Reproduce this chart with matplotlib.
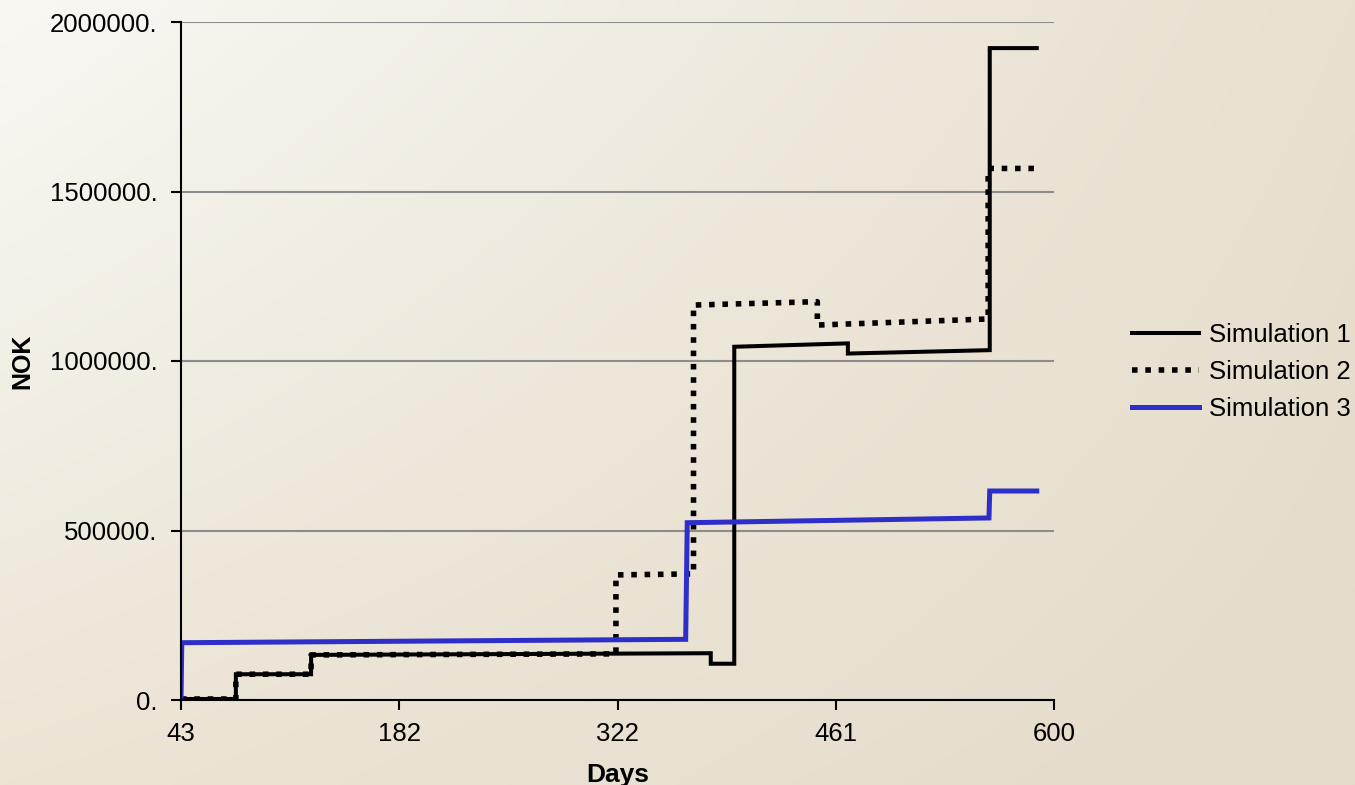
import numpy as np
import matplotlib.pyplot as plt
from matplotlib.ticker import FixedLocator, FuncFormatter

plt.rcParams['font.family'] = ['Liberation Sans', 'DejaVu Sans']

# Simulation 1 (solid black)
days_sim1 = [43, 78, 78, 126, 126, 381, 381, 396, 396, 468.5, 468.5, 559, 559, 589]
nok_sim1 = [3000, 3000, 76000, 76000, 133000, 138000, 107000, 107000,
            1042000, 1052000, 1022000, 1032000, 1923000, 1923000]

# Simulation 2 (dotted black)
days_sim2 = [43, 78, 78, 126, 126, 320.5, 320.5, 370, 370, 449, 449, 558, 558, 588]
nok_sim2 = [3000, 3000, 76000, 76000, 133000, 136000, 369000, 372000,
            1165000, 1175000, 1106000, 1124000, 1568000, 1568000]

# Simulation 3 (blue)
days_sim3 = [43, 43.5, 365, 366, 558.5, 559, 589]
nok_sim3 = [0, 169000, 179000, 523000, 537000, 616500, 616500]

x_ticks = [43, 182.25, 321.5, 460.75, 600]
x_tick_labels = ['43', '182', '322', '461', '600']
y_ticks = [0, 500000, 1000000, 1500000, 2000000]

fig = plt.figure(figsize=(13.55, 7.85), dpi=100)

# beige gradient background
bg = fig.add_axes([0, 0, 1, 1], zorder=-10)
tl = np.array([249, 248, 243]) / 255.
tr = np.array([232, 224, 208]) / 255.
bl = np.array([236, 229, 214]) / 255.
br = np.array([228, 219, 202]) / 255.
u = np.linspace(0, 1, 200)[None, :, None]
v = np.linspace(0, 1, 120)[:, None, None]
img = (1 - u) * (1 - v) * tl + u * (1 - v) * tr + (1 - u) * v * bl + u * v * br
bg.imshow(img, aspect='auto', interpolation='bilinear', extent=[0, 1, 0, 1])
bg.axis('off')

ax = fig.add_axes([181 / 1355, 1 - 700 / 785, (1054 - 181) / 1355, (700 - 22) / 785])
ax.set_facecolor('none')

ax.plot(days_sim1, nok_sim1, color='black', lw=2.9, label='Simulation 1',
        solid_joinstyle='miter', zorder=3)
ax.plot(days_sim2, nok_sim2, color='black', lw=4.0, dashes=(1.0, 1.4),
        dash_capstyle='butt', label='Simulation 2', zorder=3)
ax.plot(days_sim3, nok_sim3, color='#2e2ec8', lw=3.6, label='Simulation 3',
        solid_joinstyle='miter', zorder=3)

ax.set_xlim(43, 600)
ax.set_ylim(0, 2000000)
ax.xaxis.set_major_locator(FixedLocator(x_ticks))
ax.set_xticklabels(x_tick_labels)
ax.yaxis.set_major_locator(FixedLocator(y_ticks))
ax.yaxis.set_major_formatter(FuncFormatter(lambda v, p: '%d.' % v))

ax.grid(True, axis='y', color='#8c8c8c', lw=1.5)
ax.set_axisbelow(True)
for s in ['top', 'right']:
    ax.spines[s].set_visible(False)
for s in ['left', 'bottom']:
    ax.spines[s].set_linewidth(1.5)
    ax.spines[s].set_zorder(4)
ax.tick_params(axis='both', direction='out', length=7, width=1.5,
               labelsize=18.5, colors='black')
ax.tick_params(axis='x', pad=9)
ax.tick_params(axis='y', pad=10)

ax.set_xlabel('Days', fontsize=19, fontweight='bold', labelpad=12)
ax.set_ylabel('NOK', fontsize=18, fontweight='bold', labelpad=11)

ax.legend(loc='center left', bbox_to_anchor=(1132 / 1355, 1 - 372 / 785),
          bbox_transform=fig.transFigure, frameon=False, fontsize=18.5,
          handlelength=2.6, handletextpad=0.4, labelspacing=0.5,
          borderpad=0, borderaxespad=0)

fig.savefig('out.png', dpi=100)
